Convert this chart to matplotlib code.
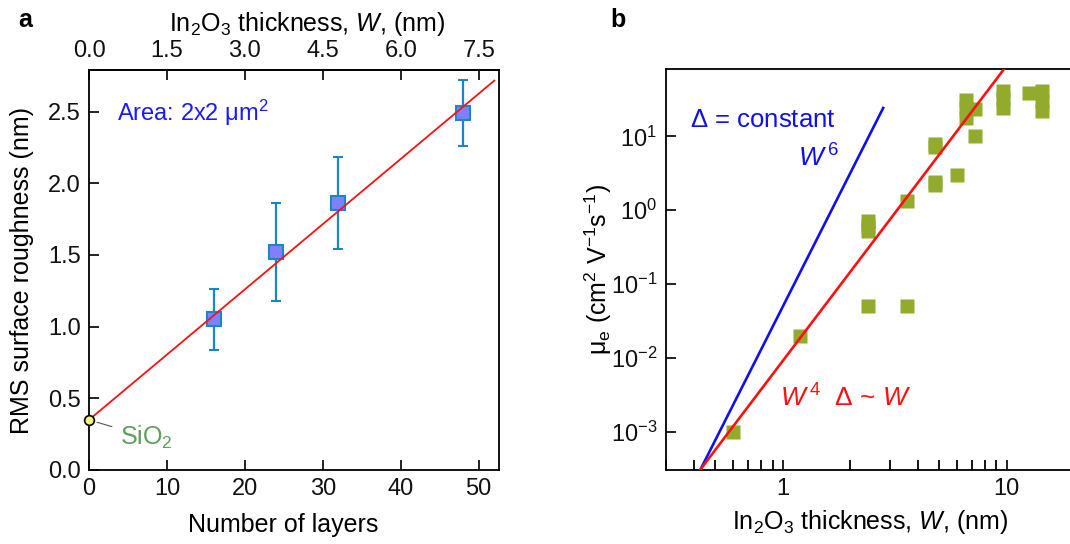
import numpy as np
import matplotlib
matplotlib.use("Agg")
import matplotlib.pyplot as plt
from matplotlib.ticker import FixedLocator, LogLocator, NullLocator, FormatStrFormatter, NullFormatter

# ---------------- data ----------------
# (a) roughness versus number of layers
layers = [16, 24, 32, 48]
rms = [1.05, 1.52, 1.86, 2.49]
rms_err = [0.21, 0.34, 0.32, 0.23]
sio2_rms = 0.35
fit_intercept = 0.35
fit_slope = 0.0455
fit_x_end = 52.0
nm_per_layer = 0.15

# (b) electron mobility versus In2O3 thickness
thickness = [0.6, 1.2, 2.4, 2.4, 2.4, 2.4, 3.6, 3.6, 4.8, 4.8, 4.8, 4.8,
             6.0, 6.6, 6.6, 6.6, 7.2, 7.2, 9.6, 9.6, 9.6, 12.6, 14.4, 14.4, 14.4]
mobility = [1e-3, 0.02, 0.05, 0.52, 0.62, 0.72, 0.05, 1.35, 2.22, 2.43, 7.2, 8.0,
            3.0, 18.0, 24.0, 31.0, 23.5, 10.0, 24.0, 32.0, 41.0, 39.0, 22.0, 30.0, 41.0]
# power-law guides: mu = c * W**n
w6_coef, w6_exp, w6_range = 0.0494, 6, (0.42, 2.81)
w4_coef, w4_exp, w4_range = 0.0091, 4, (0.42, 12.0)

# ---------------- style ----------------
plt.rcParams['font.family'] = ['Liberation Sans', 'DejaVu Sans']
plt.rcParams['mathtext.fontset'] = 'custom'
plt.rcParams['mathtext.rm'] = 'Liberation Sans'
plt.rcParams['mathtext.it'] = 'Liberation Sans:italic'
plt.rcParams['mathtext.bf'] = 'Liberation Sans:bold'
plt.rcParams['axes.linewidth'] = 1.3

FS_TICK = 17
FS_LABEL = 18
W_PX, H_PX = 1070, 544
fig = plt.figure(figsize=(W_PX / 100, H_PX / 100), dpi=100)


def box(l, t, r, b):
    return [l / W_PX, 1 - b / H_PX, (r - l) / W_PX, (b - t) / H_PX]


def px(x, y):
    """Figure-pixel position measured from the top-left corner."""
    return x / W_PX, 1 - y / H_PX


tick_kw = dict(direction='in', length=7, width=1.3, labelsize=FS_TICK, colors='#111111')

# ---------------- panel a ----------------
ax = fig.add_axes(box(89, 70, 499, 470))
ax.set_xlim(0, 52.6)
ax.set_ylim(0, 2.79)
ax.xaxis.set_major_locator(FixedLocator([0, 10, 20, 30, 40, 50]))
ax.yaxis.set_major_locator(FixedLocator([0, 0.5, 1.0, 1.5, 2.0, 2.5]))
ax.yaxis.set_major_formatter(FormatStrFormatter('%.1f'))
ax.tick_params(axis='both', which='major', pad=6, **tick_kw)
ax.tick_params(axis='x', top=False)

ax.errorbar(layers, rms, yerr=rms_err, fmt='s', ms=9.4, mfc='#8080ff', mec='#1a86c8',
            mew=1.5, ecolor='#1a86c8', elinewidth=1.6, capsize=3.3, capthick=1.6, zorder=3)
xf = np.array([0.0, fit_x_end])
ax.plot(xf, fit_intercept + fit_slope * xf, color='#ff1010', lw=1.3, zorder=4)
ax.plot([0], [sio2_rms], 'o', ms=7, mfc='#f4f27a', mec='black', mew=1.2, zorder=6, clip_on=False)
ax.annotate(r'SiO$_2$', xy=(0, sio2_rms), xycoords='data',
            xytext=px(120, 437), textcoords='figure fraction',
            fontsize=FS_LABEL, color='#5f9e5f', va='center', ha='left',
            arrowprops=dict(arrowstyle='-', color='#555555', lw=0.8, shrinkA=4, shrinkB=6))

fig.text(*px(117, 113), r'Area: 2x2 μm$^2$', fontsize=17, color='#1a1aff', va='center', ha='left')

ax.set_xlabel('Number of layers', fontsize=FS_LABEL)
ax.xaxis.set_label_coords((283.5 - 89) / 410, (470 - 525) / 400)
ax.xaxis.label.set_va('center')
ax.set_ylabel('RMS surface roughness (nm)', fontsize=FS_LABEL)
ax.yaxis.set_label_coords((22 - 89) / 410, 0.5)
ax.yaxis.label.set_va('center')

top = ax.secondary_xaxis('top', functions=(lambda x: x * nm_per_layer, lambda w: w / nm_per_layer))
top.xaxis.set_major_locator(FixedLocator([0, 1.5, 3.0, 4.5, 6.0, 7.5]))
top.xaxis.set_major_formatter(FormatStrFormatter('%.1f'))
top.tick_params(axis='x', which='major', pad=6, **tick_kw)
fig.text(*px(307, 24), r'In$_2$O$_3$ thickness, $W$, (nm)', fontsize=FS_LABEL, va='center', ha='center')

fig.text(*px(18, 20), 'a', fontsize=FS_LABEL, fontweight='bold', va='center', ha='left')

# ---------------- panel b ----------------
bx = fig.add_axes(box(665.7, 69, 1074, 470))
bx.set_xscale('log')
bx.set_yscale('log')
bx.set_xlim(0.30, 20)
bx.set_ylim(3.03e-4, 82)
bx.spines['right'].set_visible(False)
bx.xaxis.set_major_locator(FixedLocator([1, 10]))
bx.xaxis.set_major_formatter(FormatStrFormatter('%d'))
bx.xaxis.set_minor_locator(LogLocator(base=10, subs=np.arange(2, 10)))
bx.xaxis.set_minor_formatter(NullFormatter())
bx.yaxis.set_major_locator(FixedLocator([1e-3, 1e-2, 1e-1, 1e0, 1e1]))
bx.yaxis.set_minor_locator(NullLocator())
bx.tick_params(axis='both', which='major', pad=6, **tick_kw)
bx.tick_params(axis='x', which='minor', direction='in', length=7, width=1.3)
bx.tick_params(top=False, right=False, which='both')

wl = np.geomspace(*w6_range, 50)
bx.plot(wl, w6_coef * wl ** w6_exp, color='#1010ee', lw=1.9, zorder=4)
wl = np.geomspace(*w4_range, 50)
bx.plot(wl, w4_coef * wl ** w4_exp, color='#ff1010', lw=1.9, zorder=4)
bx.plot(thickness, mobility, 's', ms=10.4, mfc='#93ab2d', mec='none', zorder=3)

fig.text(*px(690, 120), r'$\Delta$ = constant', fontsize=18.5, color='#1010ee', va='center', ha='left')
fig.text(*px(798, 158), r'$W^{\,6}$', fontsize=19, color='#1010ee', va='center', ha='left')
fig.text(*px(780, 398), r'$W^{\,4}$  $\Delta$ ~ $W$', fontsize=19, color='#ff1010', va='center', ha='left')

bx.set_xlabel(r'In$_2$O$_3$ thickness, $W$, (nm)', fontsize=FS_LABEL)
bx.xaxis.set_label_coords(0.5, (470 - 522) / 401)
bx.xaxis.label.set_va('center')
bx.set_ylabel(r'μ$_\mathregular{e}$ (cm$^2$ V$^{-1}$s$^{-1}$)', fontsize=FS_LABEL)
bx.yaxis.set_label_coords((598 - 665.7) / 408.3, 0.5)
bx.yaxis.label.set_va('center')

fig.text(*px(610, 20), 'b', fontsize=FS_LABEL, fontweight='bold', va='center', ha='left')

fig.savefig('out.png', dpi=100)
